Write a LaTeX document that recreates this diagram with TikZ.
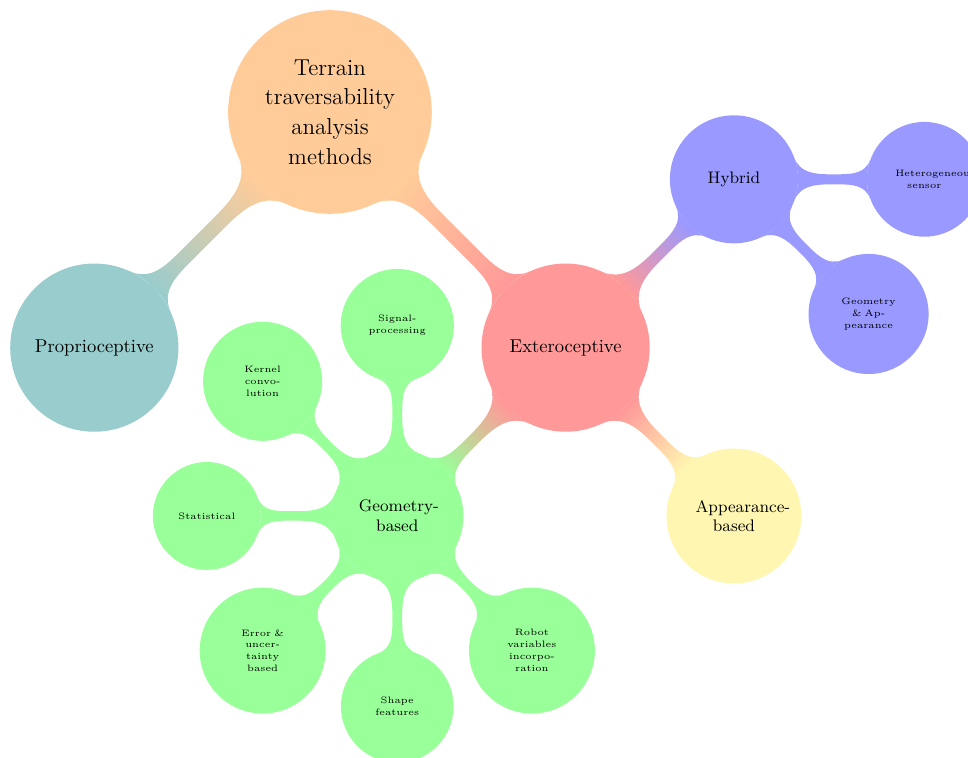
\documentclass[tikz,border=0pt]{standalone}
\usetikzlibrary{mindmap,calc}
\definecolor{appcol}{RGB}{255,247,177}
\begin{document}
\begin{tikzpicture}[
  cnode/.style={circle, inner sep=0pt, outer sep=0pt, align=center, text=black},
  rootc/.style={cnode, fill=orange!40, minimum size=3.85cm, text width=3cm, font=\fontsize{12.4}{16}\selectfont},
  lvlone/.style={cnode, minimum size=3.18cm, text width=2.5cm, font=\fontsize{10}{12}\selectfont},
  lvltwo/.style={cnode, text width=1.45cm, font=\fontsize{9}{10.5}\selectfont},
  lvlthree/.style={cnode, text width=1.1cm, font=\fontsize{5}{6.4}\selectfont},
  barone/.style={line width=7.3pt},
  bartwo/.style={line width=5.8pt},
  barthree/.style={line width=4.9pt}
]
\useasboundingbox (-6.238,2.117) rectangle (12.062,-12.212);
\clip (-6.238,2.117) rectangle (12.062,-12.212);

% root and level 1
\node[rootc] (root) at (0,0) {Terrain\\traversability\\analysis\\methods};
\node[lvlone, fill=teal!40] (prop) at (225:6.3) {Proprioceptive};
\node[lvlone, fill=red!40] (ext) at (-45:6.3) {Exteroceptive};

% level 2
\node[lvltwo, fill=blue!40, minimum size=2.42cm] (hyb) at ($(ext)+(45:4.5)$) {Hybrid};
\node[lvltwo, fill=appcol, minimum size=2.55cm] (app) at ($(ext)+(-45:4.5)$) {Appearance-based};
\node[lvltwo, fill=green!40, minimum size=2.5cm] (geo) at ($(ext)+(-135:4.5)$) {Geometry-based};

% level 3 (hybrid)
\node[lvlthree, fill=blue!40, minimum size=2.17cm] (het) at ($(hyb)+(0:3.6)$) {Heterogeneous\\sensor};
\node[lvlthree, fill=blue!40, minimum size=2.27cm] (gap) at ($(hyb)+(-45:3.6)$) {Geometry\\\& Ap-\\pearance};

% level 3 (geometry)
\node[lvlthree, fill=green!40, minimum size=2.14cm] (sig) at ($(geo)+(90:3.6)$) {Signal-\\processing};
\node[lvlthree, fill=green!40, minimum size=2.25cm] (ker) at ($(geo)+(135:3.6)$) {Kernel\\convo-\\lution};
\node[lvlthree, fill=green!40, minimum size=2.04cm] (sta) at ($(geo)+(180:3.6)$) {Statistical};
\node[lvlthree, fill=green!40, minimum size=2.38cm] (err) at ($(geo)+(225:3.6)$) {Error \&\\uncer-\\tainty\\based};
\node[lvlthree, fill=green!40, minimum size=2.13cm] (sha) at ($(geo)+(270:3.6)$) {Shape\\features};
\node[lvlthree, fill=green!40, minimum size=2.38cm] (rob) at ($(geo)+(315:3.6)$) {Robot\\variables\\incorpo-\\ration};

% connectors
\path[barone] (root) to[circle connection bar switch color=from (orange!40) to (teal!40)] (prop);
\path[barone] (root) to[circle connection bar switch color=from (orange!40) to (red!40)] (ext);
\path[bartwo] (ext) to[circle connection bar switch color=from (red!40) to (blue!40)] (hyb);
\path[bartwo] (ext) to[circle connection bar switch color=from (red!40) to (appcol)] (app);
\path[bartwo] (ext) to[circle connection bar switch color=from (red!40) to (green!40)] (geo);
\path[barthree] (hyb) to[circle connection bar switch color=from (blue!40) to (blue!40)] (het);
\path[barthree] (hyb) to[circle connection bar switch color=from (blue!40) to (blue!40)] (gap);
\path[barthree] (geo) to[circle connection bar switch color=from (green!40) to (green!40)] (sig);
\path[barthree] (geo) to[circle connection bar switch color=from (green!40) to (green!40)] (ker);
\path[barthree] (geo) to[circle connection bar switch color=from (green!40) to (green!40)] (sta);
\path[barthree] (geo) to[circle connection bar switch color=from (green!40) to (green!40)] (err);
\path[barthree] (geo) to[circle connection bar switch color=from (green!40) to (green!40)] (sha);
\path[barthree] (geo) to[circle connection bar switch color=from (green!40) to (green!40)] (rob);
\end{tikzpicture}
\end{document}
